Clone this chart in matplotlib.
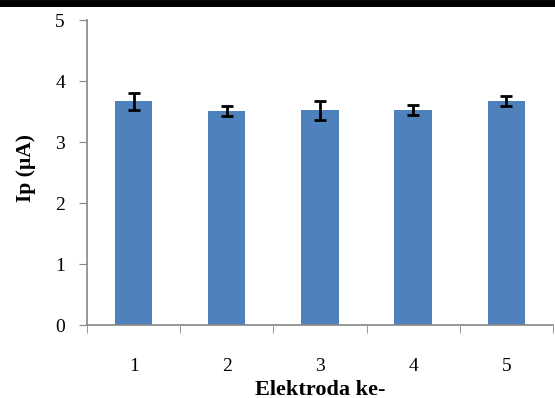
import matplotlib.pyplot as plt
import numpy as np

plt.rcParams['font.family'] = ['Liberation Serif', 'DejaVu Serif']

electrodes = ["1", "2", "3", "4", "5"]
ip_values = [3.67, 3.51, 3.52, 3.52, 3.67]
ip_errors = [0.14, 0.08, 0.16, 0.08, 0.08]

fig = plt.figure(figsize=(5.55, 3.98), dpi=100)
ax = fig.add_axes([0.157, 0.1834, 0.839, 0.7663])

x = np.arange(len(electrodes))
ax.bar(x, ip_values, width=0.4, color='#4F81BD', zorder=2)
ax.errorbar(x, ip_values, yerr=ip_errors, fmt='none', ecolor='black',
            elinewidth=2, capsize=4.5, capthick=2, zorder=3)

ax.set_xlim(-0.5, len(electrodes) - 0.5)
ax.set_ylim(0, 5)
ax.set_yticks(range(6))
ax.set_xticks(x)
ax.set_xticklabels(electrodes)
ax.set_xticks(np.arange(len(electrodes) + 1) - 0.5, minor=True)

for side in ('top', 'right'):
    ax.spines[side].set_visible(False)
for side in ('left', 'bottom'):
    ax.spines[side].set_color('#868686')
    ax.spines[side].set_linewidth(1.2)

ax.tick_params(axis='y', direction='out', length=6, color='#868686', labelsize=14, pad=10)
ax.tick_params(axis='x', which='major', length=0, labelsize=14, pad=24)
ax.tick_params(axis='x', which='minor', direction='out', length=6, color='#868686')

ax.set_ylabel('Ip (µA)', fontsize=15.5, fontweight='bold')
ax.yaxis.set_label_coords(-0.11, 0.515)
ax.set_xlabel('Elektroda ke-', fontsize=16, fontweight='bold', labelpad=3)

# heavy rule along the top edge
fig.add_artist(plt.Line2D([0, 1], [0.993, 0.993], color='black', linewidth=5,
                          transform=fig.transFigure))

fig.savefig('out.png', dpi=100)
